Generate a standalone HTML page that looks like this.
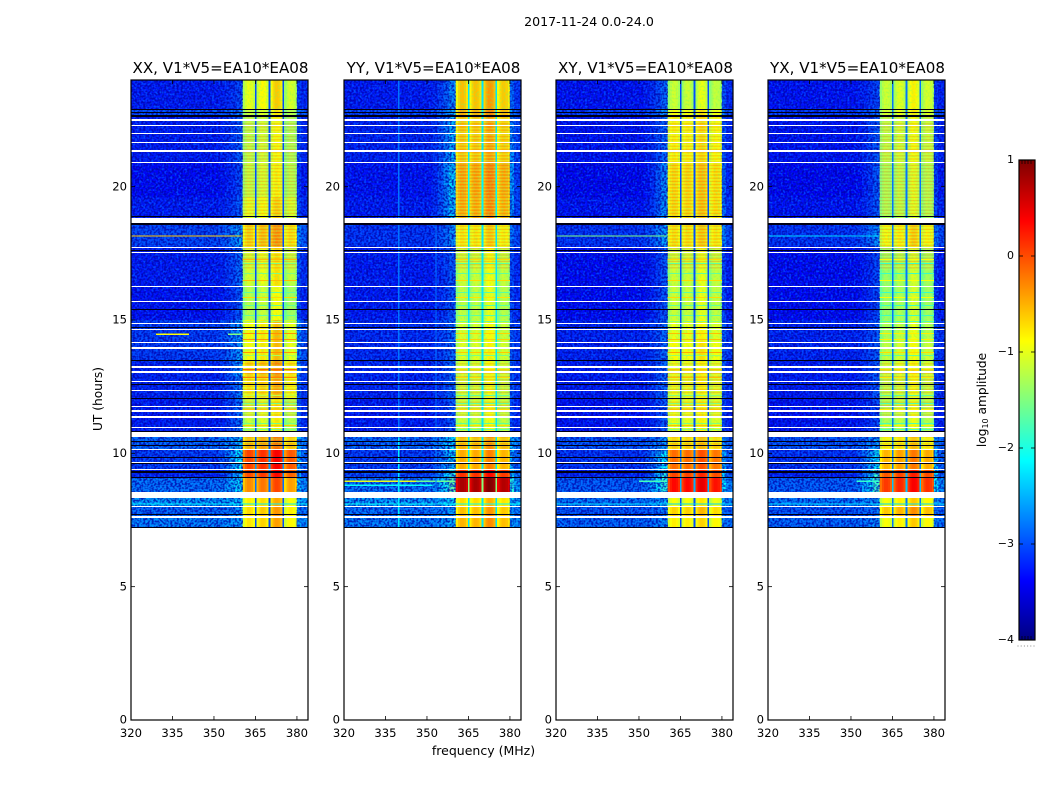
<!DOCTYPE html>
<html lang="en">
<head>
<meta charset="utf-8">
<title>2017-11-24 0.0-24.0</title>
<style>
html,body{margin:0;padding:0;background:#fff;width:1050px;height:800px;overflow:hidden}
svg{display:block}
text{font-family:"DejaVu Sans","Liberation Sans",sans-serif;fill:#000}
</style>
</head>
<body>
<svg id="figure" xmlns="http://www.w3.org/2000/svg" width="1050" height="800" viewBox="0 0 1050 800">
  <defs>
    <filter id="speckle-light" x="0" y="0" width="100%" height="100%" color-interpolation-filters="sRGB">
      <feTurbulence type="fractalNoise" baseFrequency="0.48" numOctaves="1" seed="4"/>
      <feColorMatrix type="matrix" values="0 0 0 0 0  0 0 0 0 0.42  0 0 0 0 1  4.6 0 0 0 -2.1"/>
    </filter>
    <filter id="speckle-dark" x="0" y="0" width="100%" height="100%" color-interpolation-filters="sRGB">
      <feTurbulence type="fractalNoise" baseFrequency="0.48" numOctaves="1" seed="19"/>
      <feColorMatrix type="matrix" values="0 0 0 0 0  0 0 0 0 0  0 0 0 0 0.66  4.6 0 0 0 -1.9"/>
    </filter>
    <filter id="speckle-band" x="0" y="0" width="100%" height="100%" color-interpolation-filters="sRGB">
      <feTurbulence type="fractalNoise" baseFrequency="0.5" numOctaves="1" seed="31"/>
      <feColorMatrix type="matrix" values="0 0 0 0 0.35  0 0 0 0 1  0 0 0 0 0.45  3.6 0 0 0 -1.6"/>
    </filter>
    <pattern id="band-stripes" patternUnits="userSpaceOnUse" width="8" height="3.2">
      <rect x="0" y="0" width="8" height="1.3" fill="#e0ff40" fill-opacity="0.32"/>
      <rect x="0" y="1.6" width="8" height="1.2" fill="#ff7000" fill-opacity="0.32"/>
    </pattern>
  </defs>
  <text x="589" y="26" font-size="12.6" text-anchor="middle">2017-11-24 0.0-24.0</text>
  <text transform="translate(102,399) rotate(-90)" font-size="12.2" text-anchor="middle">UT (hours)</text>
  <text x="483.5" y="755" font-size="12.5" text-anchor="middle">frequency (MHz)</text>
  <text transform="translate(986,400) rotate(-90)" font-size="12.2" text-anchor="middle">log<tspan font-size="8" dy="2">10</tspan><tspan dy="-2"> amplitude</tspan></text>
</svg>
<script>
/* ---------- categories and ticks ---------- */
const panelNames = ['XX', 'YY', 'XY', 'YX'];
const baselineLabel = 'V1*V5=EA10*EA08';
const frequencyTicks = [320, 335, 350, 365, 380];
const timeTicks = [0, 5, 10, 15, 20];
const colorbarTicks = [1, 0, -1, -2, -3, -4];

/* ---------- time sections: upper edge of each section in UT hours ---------- */
const sectionTopUT = [24, 22.9, 22.65, 20.9, 19.6, 18.6, 17.75, 16.3, 15, 14.2, 13.45, 12.9, 12.05, 10.62, 10.15, 9.42, 9.1, 8.55, 8.0, 7.62];
const dataFloorUT = 7.2;

/* ---------- log10 amplitude off-band, per section ---------- */
const xxBackground = [-3.25, -2.95, -3.25, -3.35, -3.25, -3.0, -3.25, -3.3, -3.05, -3.05, -3.2, -3.2, -3.25, -2.8, -3.05, -3.2, -2.75, -2.5, -2.8, -2.65];
const yyBackground = [-3.25, -3.0, -3.2, -3.3, -3.25, -3.1, -3.25, -3.25, -3.15, -3.15, -3.2, -3.2, -3.25, -2.8, -3.05, -3.0, -2.75, -2.5, -2.75, -2.65];
const xyBackground = [-3.3, -3.05, -3.3, -3.4, -3.3, -3.1, -3.35, -3.35, -3.2, -3.2, -3.25, -3.25, -3.3, -2.9, -3.1, -3.2, -2.85, -2.7, -2.9, -2.8];
const yxBackground = [-3.3, -3.05, -3.3, -3.4, -3.3, -3.1, -3.35, -3.35, -3.2, -3.2, -3.25, -3.25, -3.3, -2.9, -3.1, -3.2, -2.85, -2.7, -2.9, -2.8];

/* ---------- log10 amplitude at the band skirt next to 360 MHz, per section ---------- */
const xxSkirt = [-3.0, -2.7, -2.9, -3.0, -2.9, -2.5, -2.8, -2.9, -2.5, -2.5, -2.5, -2.7, -2.8, -2.3, -2.1, -2.2, -2.2, -2.3, -2.6, -2.5];
const yySkirt = [-2.6, -2.4, -2.4, -2.2, -2.3, -2.6, -2.9, -2.9, -2.8, -2.8, -2.8, -2.8, -2.9, -2.2, -2.2, -1.9, -1.6, -2.2, -2.5, -2.4];
const xySkirt = [-2.8, -2.6, -2.8, -2.6, -2.6, -2.5, -2.9, -2.9, -2.8, -2.8, -2.8, -2.8, -2.9, -2.5, -2.1, -1.9, -1.9, -2.4, -2.7, -2.6];
const yxSkirt = [-3.0, -2.8, -2.9, -2.9, -2.9, -2.6, -3.0, -3.0, -2.9, -2.9, -2.9, -2.9, -3.0, -2.5, -2.1, -1.8, -1.8, -2.5, -2.7, -2.6];

/* ---------- log10 amplitude inside the 360-380 MHz band, per section ---------- */
const xxBand = [-0.85, -1.0, -1.1, -1.05, -0.85, -0.5, -0.95, -1.1, -0.75, -0.75, -0.5, -0.65, -1.0, -0.4, 0.15, 0.1, -0.2, -0.7, -0.6, -0.65];
const yyBand = [-0.55, -0.45, -0.55, -0.35, -0.4, -0.75, -1.1, -1.15, -1.05, -1.0, -1.05, -1.1, -1.1, -0.5, -0.45, 0.15, 0.8, -0.7, -0.55, -0.5];
const xyBand = [-1.1, -0.85, -0.8, -0.65, -0.65, -0.7, -1.1, -1.1, -0.95, -0.85, -0.95, -0.95, -0.95, -0.65, -0.15, 0.05, 0.35, -0.9, -0.65, -0.8];
const yxBand = [-1.05, -1.0, -1.15, -1.25, -1.25, -0.85, -1.3, -1.3, -1.2, -1.1, -1.05, -1.15, -1.2, -0.8, -0.45, 0.0, 0.15, -0.85, -0.55, -0.85];

/* ---------- level offset of each of the four sub-bands, per polarisation ---------- */
const xxSubBandOffset = [-0.15, -0.05, 0.2, -0.25];
const yySubBandOffset = [-0.05, -0.05, 0.15, -0.1];
const xySubBandOffset = [-0.05, -0.05, 0.1, -0.1];
const yxSubBandOffset = [-0.1, 0.0, 0.2, -0.05];

/* ---------- log10 amplitude in the notches between sub-bands ---------- */
const xxNotch = -3.0;
const yyNotch = -2.25;
const xyNotch = -3.0;
const yxNotch = -2.8;

/* ---------- channel layout in MHz ---------- */
const subBandEdges = [[360.4, 364.8], [365.4, 369.8], [370.4, 374.8], [375.4, 380]];
const subBandShape = [-0.25, -0.05, 0.05, 0.05, 0, -0.15];
const skirtEdges = [320, 352, 354, 356, 358, 360.4];
const skirtWeights = [0, 0.12, 0.32, 0.6, 0.95];
const rightEdges = [380, 381.5, 384];
const rightWeights = [0.7, 0.25];

/* ---------- flagged and dropped rows: [UT, height in hours] ---------- */
const whiteRows = [[22.5, 0.05], [22.3, 0.05], [22.0, 0.05], [21.66, 0.05], [21.34, 0.05], [20.9, 0.05], [18.73, 0.16], [17.73, 0.05], [17.54, 0.05], [16.26, 0.05], [15.7, 0.05], [14.86, 0.05], [14.66, 0.04], [14.15, 0.06], [13.95, 0.06], [13.24, 0.05], [13.06, 0.08], [12.69, 0.05], [12.36, 0.05], [11.76, 0.05], [11.59, 0.05], [11.36, 0.05], [10.98, 0.05], [10.7, 0.17], [10.15, 0.05], [9.66, 0.05], [9.4, 0.05], [8.44, 0.22], [8.0, 0.06], [7.62, 0.08]];
const blackRows = [[22.9, 0.04], [22.78, 0.03], [22.65, 0.04], [18.89, 0.05], [18.6, 0.05], [17.6, 0.04], [15.4, 0.03], [14.72, 0.03], [13.49, 0.05], [12.6, 0.03], [12.06, 0.05], [10.82, 0.04], [10.45, 0.04], [10.3, 0.04], [9.85, 0.05], [9.62, 0.03], [9.3, 0.08], [9.09, 0.06], [7.69, 0.04], [7.22, 0.06]];
const stripeRangesUT = [[22.6, 18.9], [18.6, 16.9], [13.4, 11.4], [10.6, 10.2]];

/* ---------- band-wide level changes: UT rows below or above the section level ---------- */
const bandDipRows = [17.15, 16.75, 16.05, 15.55, 15.2, 14.95, 13.7, 12.2, 11.9, 11.15, 10.9];
const bandHotRows = [17.3, 16.5, 15.85, 14.5, 14.3, 13.8, 13.15, 12.85, 11.65, 11.05];
const bandDipAmount = -0.55;
const bandHotAmount = 0.4;

/* ---------- narrow interference: [UT, from MHz, to MHz, log10 amplitude] ---------- */
const xxLines = [[18.15, 320, 360, -0.6], [14.47, 329, 341, -0.9], [14.47, 355, 360, -1.5], [8.1, 320, 384, -2.2]];
const yyLines = [[8.95, 320, 346, -1.0], [8.95, 346, 360.4, -1.6], [8.8, 320, 352, -2.1], [8.1, 320, 384, -2.1]];
const xyLines = [[18.15, 320, 360, -1.5], [8.95, 350, 360.4, -1.8], [8.1, 320, 384, -2.3]];
const yxLines = [[18.15, 320, 360, -2.3], [8.95, 352, 360.4, -1.9], [8.1, 320, 384, -2.3]];
/* vertical RFI seen in YY: [MHz, from UT, to UT, log10 amplitude] */
const yyVerticalLines = [[339.6, 7.2, 10.6, -2.2], [339.6, 10.6, 24, -2.8], [353, 7.2, 18.6, -2.8]];

/* ---------- geometry ---------- */
const panelLefts = [131, 344, 556, 768];
const panelWidth = 177;
const plotTop = 80;
const plotBottom = 720;
const freqMin = 320;
const freqMax = 384;
const utMax = 24;
const cbLeft = 1019;
const cbRight = 1035;
const cbTop = 160;
const cbBottom = 640;

const backgrounds = [xxBackground, yyBackground, xyBackground, yxBackground];
const skirts = [xxSkirt, yySkirt, xySkirt, yxSkirt];
const bands = [xxBand, yyBand, xyBand, yxBand];
const subOffsets = [xxSubBandOffset, yySubBandOffset, xySubBandOffset, yxSubBandOffset];
const notches = [xxNotch, yyNotch, xyNotch, yxNotch];
const lines = [xxLines, yyLines, xyLines, yxLines];
const verticals = [[], yyVerticalLines, [], []];

const NS = 'http://www.w3.org/2000/svg';
const figure = document.getElementById('figure');

function xScale(panel, mhz) {
  return panelLefts[panel] + (mhz - freqMin) * panelWidth / (freqMax - freqMin);
}
function yScale(ut) {
  return plotBottom - ut * (plotBottom - plotTop) / utMax;
}
function cbScale(level) {
  return cbBottom - (level + 4) * (cbBottom - cbTop) / 5;
}
function jet(level) {
  const t = Math.max(0, Math.min(1, (level + 4) / 5));
  const ramp = (x) => Math.round(255 * Math.max(0, Math.min(1, 1.5 - Math.abs(4 * x))));
  return 'rgb(' + ramp(t - 0.75) + ',' + ramp(t - 0.5) + ',' + ramp(t - 0.25) + ')';
}
function sectionAt(ut) {
  let found = 0;
  sectionTopUT.forEach(function (top, s) {
    if (ut <= top) found = s;
  });
  return found;
}
function make(parent, tag, attrs, content) {
  const el = document.createElementNS(NS, tag);
  for (const key in attrs) el.setAttribute(key, attrs[key]);
  if (content !== undefined) el.textContent = content;
  parent.appendChild(el);
  return el;
}
function cellRect(parent, x0, x1, y0, y1, fill) {
  return make(parent, 'rect', {
    x: x0.toFixed(2), y: y0.toFixed(2),
    width: Math.max(0, x1 - x0).toFixed(2), height: Math.max(0, y1 - y0).toFixed(2),
    fill: fill, 'shape-rendering': 'crispEdges'
  });
}
function flagRect(parent, p, ut, hours, fill) {
  const y = yScale(ut);
  const h = hours * (plotBottom - plotTop) / utMax;
  const y0 = Math.round(y - h / 2);
  const y1 = Math.max(y0 + 1, Math.round(y + h / 2));
  return cellRect(parent, xScale(p, freqMin), xScale(p, freqMax), y0, y1, fill);
}

panelNames.forEach(function (name, p) {
  const group = make(figure, 'g', {});
  
  

  const heat = make(group, 'g', {});
  
  

  sectionTopUT.forEach(function (top, s) {
    const bottom = s + 1 < sectionTopUT.length ? sectionTopUT[s + 1] : dataFloorUT;
    const y0 = yScale(top);
    const y1 = yScale(bottom);
    const bg = backgrounds[p][s];
    const sk = skirts[p][s];
    const lvl = bands[p][s];
    for (let i = 0; i < skirtWeights.length; i++) {
      const cell = cellRect(heat, xScale(p, skirtEdges[i]), xScale(p, skirtEdges[i + 1]), y0, y1, jet(bg + (sk - bg) * skirtWeights[i]));
      
      
    }
    subBandEdges.forEach(function (edge, b) {
      const step = (edge[1] - edge[0]) / subBandShape.length;
      subBandShape.forEach(function (shape, c) {
        const cell = cellRect(heat, xScale(p, edge[0] + c * step), xScale(p, edge[0] + (c + 1) * step), y0, y1, jet(lvl + subOffsets[p][b] + shape));
        
        
      });
      if (b < subBandEdges.length - 1) {
        const notch = cellRect(heat, xScale(p, edge[1]), xScale(p, subBandEdges[b + 1][0]), y0, y1, jet(notches[p] + Math.max(0, lvl + 0.5) * 0.6));
        
        
      }
    });
    for (let i = 0; i < rightWeights.length; i++) {
      const cell = cellRect(heat, xScale(p, rightEdges[i]), xScale(p, rightEdges[i + 1]), y0, y1, jet(bg + (sk - bg) * rightWeights[i]));
      
      
    }
  });

  const dataTop = yScale(utMax);
  const dataBottom = yScale(dataFloorUT);
  const bgWidth = xScale(p, subBandEdges[0][0]) - xScale(p, freqMin);
  const addSpeckle = function (x, y, w, h, filter, opacity, label) {
    const r = make(group, 'rect', { x: x, y: y, width: w, height: h, filter: 'url(#' + filter + ')', opacity: opacity });
    
    
  };
  const dataHeight = dataBottom - dataTop;
  addSpeckle(xScale(p, freqMin), dataTop, bgWidth, dataHeight, 'speckle-light', 0.6, 'noise-texture-light');
  addSpeckle(xScale(p, freqMin), dataTop, bgWidth, dataHeight, 'speckle-dark', 0.75, 'noise-texture-dark');
  addSpeckle(xScale(p, 380), dataTop, xScale(p, freqMax) - xScale(p, 380), dataHeight, 'speckle-light', 0.6, 'noise-texture-light');
  addSpeckle(xScale(p, 380), dataTop, xScale(p, freqMax) - xScale(p, 380), dataHeight, 'speckle-dark', 0.65, 'noise-texture-dark');

  subBandEdges.forEach(function (edge) {
    const bx = xScale(p, edge[0]);
    const bw = xScale(p, edge[1]) - bx;
    addSpeckle(bx, dataTop, bw, yScale(10.2) - dataTop, 'speckle-band', 0.3, 'noise-texture-band');
    stripeRangesUT.forEach(function (range) {
      const st = cellRect(group, bx, bx + bw, yScale(range[0]), yScale(range[1]), 'url(#band-stripes)');
      
      
    });
    bandDipRows.forEach(function (ut) {
      const s = sectionAt(ut);
      const dip = cellRect(group, bx, bx + bw, Math.round(yScale(ut)), Math.round(yScale(ut)) + 1, jet(bands[p][s] + bandDipAmount));
      
      
    });
    bandHotRows.forEach(function (ut) {
      const s = sectionAt(ut);
      const hot = cellRect(group, bx, bx + bw, Math.round(yScale(ut)), Math.round(yScale(ut)) + 1, jet(bands[p][s] + bandHotAmount));
      
      
    });
  });

  lines[p].forEach(function (row) {
    const rf = cellRect(group, xScale(p, row[1]), xScale(p, row[2]), yScale(row[0]) - 0.7, yScale(row[0]) + 0.7, jet(row[3]));
    
    
  });
  verticals[p].forEach(function (col) {
    const x = xScale(p, col[0]);
    const rf = cellRect(group, x, x + 1.3, yScale(col[2]), yScale(col[1]), jet(col[3]));
    
    
  });

  whiteRows.forEach(function (row) {
    const fl = flagRect(group, p, row[0], row[1], '#ffffff');
    
    
  });
  blackRows.forEach(function (row) {
    const dr = flagRect(group, p, row[0], row[1], '#000014');
    
    
  });

  const left = panelLefts[p];
  const right = left + panelWidth;

  const frame = make(group, 'rect', { x: left, y: plotTop, width: panelWidth, height: plotBottom - plotTop, fill: 'none', stroke: '#000', 'stroke-width': 1.2 });
  
  

  const title = make(group, 'text', { x: left + panelWidth / 2 + 1, y: 73, 'font-size': 15.1, 'text-anchor': 'middle' }, name + ', ' + baselineLabel);
  
  

  frequencyTicks.forEach(function (f) {
    const x = xScale(p, f);
    const tb = make(group, 'line', { x1: x, x2: x, y1: plotBottom, y2: plotBottom - 4, stroke: '#000', 'stroke-width': 0.8 });
    
    
    const tt = make(group, 'line', { x1: x, x2: x, y1: plotTop, y2: plotTop + 4, stroke: '#000', 'stroke-width': 0.8 });
    
    
    const lab = make(group, 'text', { x: x, y: 737, 'font-size': 11.6, 'text-anchor': 'middle' }, String(f));
    
    
  });
  timeTicks.forEach(function (t) {
    const y = yScale(t);
    const tl = make(group, 'line', { x1: left, x2: left + 4, y1: y, y2: y, stroke: '#000', 'stroke-width': 0.8 });
    
    
    const tr = make(group, 'line', { x1: right, x2: right - 4, y1: y, y2: y, stroke: '#000', 'stroke-width': 0.8 });
    
    
    const lab = make(group, 'text', { x: left - 4, y: y + 3.7, 'font-size': 11.6, 'text-anchor': 'end' }, String(t));
    
    
  });
});

/* ---------- colour bar ---------- */
const colorbar = make(figure, 'g', {});


const barSteps = 240;
for (let i = 0; i < barSteps; i++) {
  const lo = -4 + 5 * i / barSteps;
  const hi = -4 + 5 * (i + 1) / barSteps;
  const swatch = cellRect(colorbar, cbLeft, cbRight, cbScale(hi), cbScale(lo) + 0.3, jet((lo + hi) / 2));
  
  
}
const cbFrame = make(colorbar, 'rect', { x: cbLeft, y: cbTop, width: cbRight - cbLeft, height: cbBottom - cbTop, fill: 'none', stroke: '#000', 'stroke-width': 1.2 });


colorbarTicks.forEach(function (v) {
  const y = cbScale(v);
  const a = make(colorbar, 'line', { x1: cbLeft, x2: cbLeft + 4, y1: y, y2: y, stroke: '#000', 'stroke-width': 0.8 });
  
  
  const b = make(colorbar, 'line', { x1: cbRight, x2: cbRight - 4, y1: y, y2: y, stroke: '#000', 'stroke-width': 0.8 });
  
  
  const lab = make(colorbar, 'text', { x: 1014, y: y + 3.2, 'font-size': 11, 'text-anchor': 'end' }, String(v).replace('-', '\u2212'));
  
  
});
const cbHatchPositions = [1022, 1025, 1028, 1031];
cbHatchPositions.forEach(function (x) {
  const top = make(colorbar, 'line', { x1: x, x2: x, y1: cbTop, y2: cbTop + 4, stroke: '#000', 'stroke-width': 0.7 });
  
  
  const bot = make(colorbar, 'line', { x1: x, x2: x, y1: cbBottom, y2: cbBottom - 4, stroke: '#000', 'stroke-width': 0.7 });
  
  
});
const dots = make(colorbar, 'line', { x1: 1017.5, x2: 1035, y1: 646, y2: 646, stroke: '#888', 'stroke-width': 1, 'stroke-dasharray': '1 2.2' });


</script>
</body>
</html>
